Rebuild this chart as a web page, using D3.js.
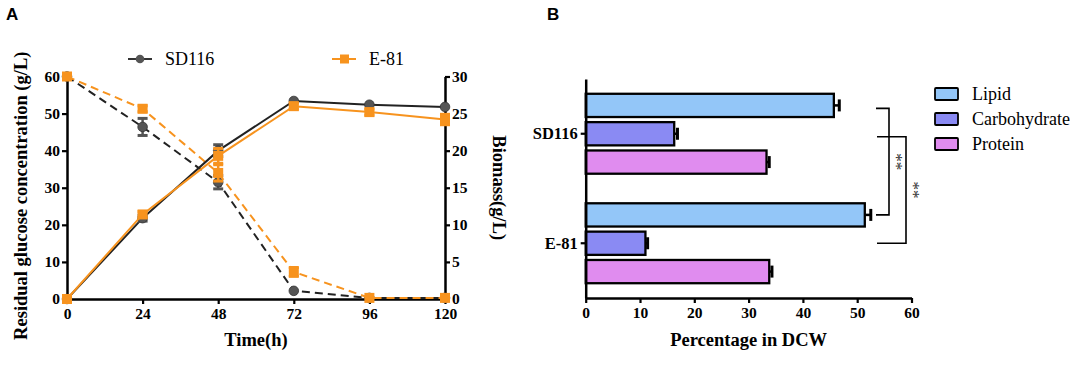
<!DOCTYPE html>
<html><head><meta charset="utf-8">
<script src="https://cdn.jsdelivr.net/npm/d3@7"></script>
<style>
html,body{margin:0;padding:0;background:#fff;}
svg text{font-family:"Liberation Serif","Times New Roman",serif;}
</style></head>
<body>
<svg id="c" width="1084" height="367"></svg>
<script>
// ---------- Panel A data ----------
const times = [0, 24, 48, 72, 96, 120];
const timeTicks = [0, 24, 48, 72, 96, 120];
const glucoseTicks = [0, 10, 20, 30, 40, 50, 60];
const biomassTicks = [0, 5, 10, 15, 20, 25, 30];
const sd116Glucose = [60, 46.4, 31.5, 2.2, 0.3, 0.3];
const sd116GlucoseErr = [0.3, 2.3, 1.8, 0.3, 0.1, 0.1];
const e81Glucose = [60, 51.3, 34.0, 7.3, 0.3, 0.3];
const e81GlucoseErr = [0.3, 0.8, 2.2, 1.2, 0.2, 0.2];
const sd116Biomass = [0, 10.9, 20.0, 26.7, 26.2, 25.9];
const sd116BiomassErr = [0, 0.4, 0.8, 0.3, 0.3, 0.3];
const e81Biomass = [0, 11.4, 19.3, 26.0, 25.2, 24.2];
const e81BiomassErr = [0, 0.4, 1.0, 0.4, 0.4, 0.7];
const strains = ["SD116", "E-81"];

// ---------- Panel B data ----------
const components = ["Lipid", "Carbohydrate", "Protein"];
const sd116Pct = [45.7, 16.3, 33.3];
const sd116PctErr = [1.0, 0.6, 0.5];
const e81Pct = [51.4, 11.0, 33.8];
const e81PctErr = [1.1, 0.4, 0.5];
const pctTicks = [0, 10, 20, 30, 40, 50, 60];
const sigLabels = ["**", "**"];

const svg = d3.select("#c");
const ORANGE = "#f7931e";
const DARK = "#222";

// ================= Panel A =================
const xA = d3.scaleLinear().domain([0, 120]).range([67, 445]);
const yG = d3.scaleLinear().domain([0, 60]).range([299, 76.5]);
const yB = d3.scaleLinear().domain([0, 30]).range([299, 76.5]);

svg.append("text").attr("x", 6).attr("y", 20)
  .style("font-family", "'Liberation Sans',Arial,sans-serif")
  .style("font-weight", "bold").style("font-size", "17px").text("A");

const gA = svg.append("g");

function styleAxis(g) {
  g.selectAll(".domain").attr("stroke", "#000").attr("stroke-width", 2.5);
  g.selectAll(".tick line").attr("stroke", "#000").attr("stroke-width", 2.2);
  g.selectAll(".tick text").style("font-family", "'Liberation Serif','Times New Roman',serif")
    .style("font-weight", "bold").style("font-size", "15.5px").attr("fill", "#000");
}

const axL = gA.append("g").attr("transform", `translate(${xA(0)},0)`)
  .call(d3.axisLeft(yG).tickValues(glucoseTicks).tickSize(5).tickPadding(2).tickSizeOuter(0));
styleAxis(axL);
const axR = gA.append("g").attr("transform", `translate(${xA(120)},0)`)
  .call(d3.axisRight(yB).tickValues(biomassTicks).tickSize(5).tickPadding(2).tickSizeOuter(0));
styleAxis(axR);
const axB = gA.append("g").attr("transform", `translate(0,${yG(0)})`)
  .call(d3.axisBottom(xA).tickValues(timeTicks).tickSize(5).tickPadding(4).tickSizeOuter(0));
styleAxis(axB);

gA.append("text").attr("transform", `translate(27,${(yG(0)+yG(60))/2+8}) rotate(-90)`)
  .attr("text-anchor", "middle").style("font-weight", "bold").style("font-size", "18.5px")
  .text("Residual glucose concentration (g/L)");
gA.append("text").attr("transform", `translate(493,${(yG(0)+yG(60))/2}) rotate(90)`)
  .attr("text-anchor", "middle").style("font-weight", "bold").style("font-size", "18.5px")
  .text("Biomass(g/L)");
gA.append("text").attr("x", (xA(0)+xA(120))/2).attr("y", 346)
  .attr("text-anchor", "middle").style("font-weight", "bold").style("font-size", "18.5px")
  .text("Time(h)");

function series(vals, errs, yScale, color, dashed, marker, markerFill) {
  const pts = times.map((t, i) => ({t, v: vals[i], e: errs[i]}));
  const line = d3.line().x(d => xA(d.t)).y(d => yScale(d.v));
  gA.append("path").datum(pts).attr("d", line).attr("fill", "none")
    .attr("stroke", color).attr("stroke-width", 2)
    .attr("stroke-dasharray", dashed ? "8,5" : null);
  const eb = gA.append("g");
  pts.forEach(d => {
    if (d.e <= 0.35) return;
    const x = xA(d.t), y1 = yScale(d.v + d.e), y2 = yScale(d.v - d.e);
    eb.append("line").attr("x1", x).attr("x2", x).attr("y1", y1).attr("y2", y2)
      .attr("stroke", markerFill).attr("stroke-width", 2.5);
    [y1, y2].forEach(y => eb.append("line").attr("x1", x-5).attr("x2", x+5)
      .attr("y1", y).attr("y2", y).attr("stroke", markerFill).attr("stroke-width", 3));
  });
  pts.forEach(d => {
    const x = xA(d.t), y = yScale(d.v);
    if (marker === "circle") {
      gA.append("circle").attr("cx", x).attr("cy", y).attr("r", 4.8).attr("fill", markerFill)
        .attr("stroke", "#333").attr("stroke-width", 0.8);
    } else {
      gA.append("rect").attr("x", x-5).attr("y", y-5).attr("width", 10).attr("height", 10)
        .attr("fill", markerFill);
    }
  });
}
series(sd116Glucose, sd116GlucoseErr, yG, DARK, true, "circle", "#555");
series(e81Glucose, e81GlucoseErr, yG, ORANGE, true, "square", ORANGE);
series(sd116Biomass, sd116BiomassErr, yB, DARK, false, "circle", "#555");
series(e81Biomass, e81BiomassErr, yB, ORANGE, false, "square", ORANGE);

// legend A
const legA = [{name: strains[0], x: 128, color: "#333", m: "circle", f: "#555"},
              {name: strains[1], x: 332, color: ORANGE, m: "square", f: ORANGE}];
legA.forEach(l => {
  const y = 59;
  gA.append("line").attr("x1", l.x).attr("x2", l.x+24).attr("y1", y).attr("y2", y)
    .attr("stroke", l.color).attr("stroke-width", 2);
  if (l.m === "circle") gA.append("circle").attr("cx", l.x+12).attr("cy", y).attr("r", 4.3).attr("fill", l.f);
  else gA.append("rect").attr("x", l.x+8).attr("y", y-4.5).attr("width", 9).attr("height", 9).attr("fill", l.f);
  gA.append("text").attr("x", l.x+37).attr("y", y+6).style("font-size", "18px").text(l.name);
});

// ================= Panel B =================
svg.append("text").attr("x", 547).attr("y", 20)
  .style("font-family", "'Liberation Sans',Arial,sans-serif")
  .style("font-weight", "bold").style("font-size", "17px").text("B");

const gB = svg.append("g");
const xP = d3.scaleLinear().domain([0, 60]).range([585.7, 911.5]);
const yS = d3.scaleBand().domain(strains).range([79, 298]).paddingInner(0.27).paddingOuter(0.135);
const yC = d3.scaleBand().domain(components).range([0, yS.bandwidth()]).paddingInner(0.18);
const colors = {"Lipid": "#93c6f8", "Carbohydrate": "#8a8af3", "Protein": "#e08cef"};

const dataB = [
  {s: strains[0], vals: sd116Pct, errs: sd116PctErr},
  {s: strains[1], vals: e81Pct, errs: e81PctErr}
];
dataB.forEach(g => {
  components.forEach((c, i) => {
    const y0 = yS(g.s) + yC(c), h = yC.bandwidth();
    const xe = xP(g.vals[i] + g.errs[i]);
    gB.append("line").attr("x1", xP(g.vals[i])).attr("x2", xe)
      .attr("y1", y0 + h/2).attr("y2", y0 + h/2).attr("stroke", "#000").attr("stroke-width", 2.5);
    gB.append("line").attr("x1", xe).attr("x2", xe)
      .attr("y1", y0 + h/2 - 6).attr("y2", y0 + h/2 + 6).attr("stroke", "#000").attr("stroke-width", 3);
    gB.append("rect").attr("x", xP(0)).attr("y", y0).attr("width", xP(g.vals[i]) - xP(0))
      .attr("height", h).attr("fill", colors[c]).attr("stroke", "#000").attr("stroke-width", 2.3);
  });
});

const axBX = gB.append("g").attr("transform", `translate(0,298)`)
  .call(d3.axisBottom(xP).tickValues(pctTicks).tickSize(5).tickPadding(4).tickSizeOuter(0));
styleAxis(axBX);
const axBY = gB.append("g").attr("transform", `translate(${xP(0)},0)`)
  .call(d3.axisLeft(yS).tickSize(5).tickPadding(3).tickSizeOuter(0));
styleAxis(axBY);
axBY.selectAll(".tick text").style("font-size", "16.5px");
gB.append("text").attr("x", (xP(0)+xP(60))/2).attr("y", 346)
  .attr("text-anchor", "middle").style("font-weight", "bold").style("font-size", "18.5px")
  .text("Percentage in DCW");

// significance brackets
function bracket(comp, xL, xV, label, xs) {
  const yTop = yS(strains[0]) + yC(comp) + yC.bandwidth()/2 + 3;
  const yBot = yS(strains[1]) + yC(comp) + yC.bandwidth()/2;
  gB.append("path").attr("d", `M${xL},${yTop}H${xV}V${yBot}H${xL}`)
    .attr("fill", "none").attr("stroke", "#000").attr("stroke-width", 1.6);
  gB.append("text").attr("transform", `translate(${xs},${(yTop+yBot)/2}) rotate(90)`)
    .attr("text-anchor", "middle").attr("fill", "#333").style("font-size", "17px").text(label);
}
bracket("Lipid", 876, 889, sigLabels[0], 891);
bracket("Carbohydrate", 877, 906, sigLabels[1], 908);

// legend B
components.forEach((c, i) => {
  const y = 88 + i * 25;
  gB.append("rect").attr("x", 935).attr("y", y).attr("width", 23).attr("height", 12)
    .attr("fill", colors[c]).attr("stroke", "#000").attr("stroke-width", 1.8).attr("rx", 1);
  gB.append("text").attr("x", 972).attr("y", y + 12).style("font-size", "18px").text(c);
});
</script>
</body></html>
